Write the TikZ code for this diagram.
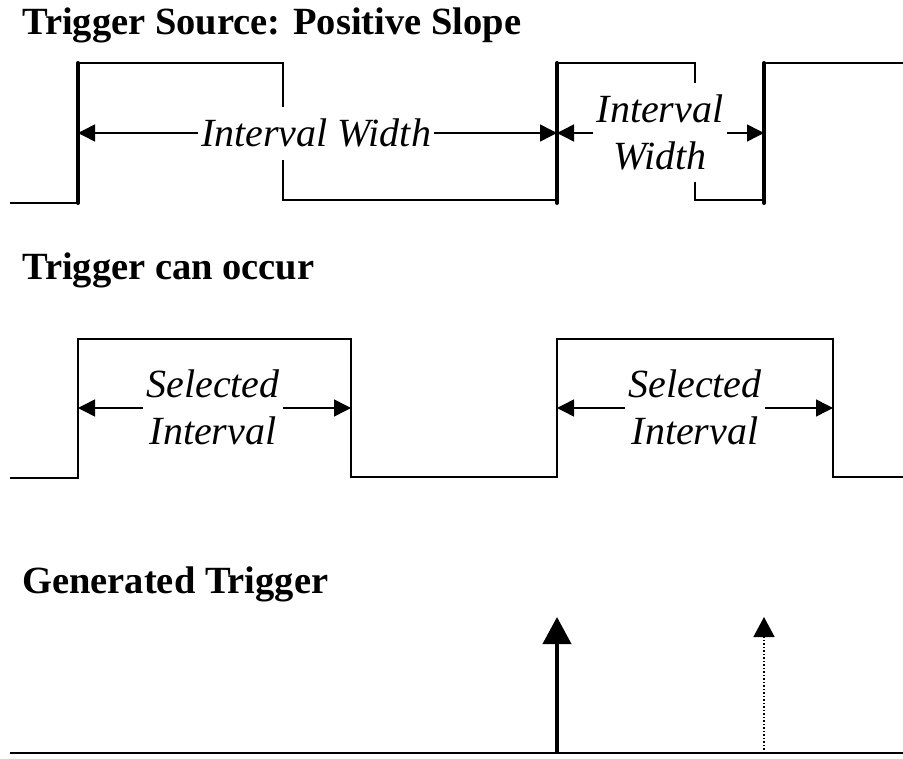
\documentclass[tikz,border=0pt]{standalone}
\usepackage{fontspec}
\setmainfont{Liberation Serif}
\usetikzlibrary{arrows.meta}
\tikzset{
  sig/.style={line width=1.5pt, line join=miter},
  edge/.style={line width=4pt, line cap=round},
  title/.style={anchor=base west, inner sep=0pt, font=\bfseries\fontsize{38.5}{46}\selectfont},
  lbl/.style={inner sep=3pt, align=center, font=\itshape\fontsize{40}{47}\selectfont},
  dim/.style={line width=1.5pt, -{Triangle[length=17pt,width=17pt]}},
  trig/.style={line width=4pt, -{Triangle[length=27pt,width=28pt]}},
  ghost/.style={line width=1.5pt, dotted, -{Triangle[length=20pt,width=21pt]}}
}
\begin{document}
\begin{tikzpicture}[x=1pt,y=-1pt]
\useasboundingbox (0,0) rectangle (903,759);
% titles
\node[title] (t1) at (22,35) {Trigger Source: Positive Slope};
\node[title] (t2) at (22,280) {Trigger can occur};
\node[title] (t3) at (22,593) {Generated Trigger};
% top signal coordinates
\coordinate (a1) at (78,133);
\coordinate (a2) at (557,133);
\coordinate (a3) at (764,133);
\draw[sig] (10,203) -- (78,203);
\draw[sig] (78,63) -- (283,63) -- (283,107);
\draw[sig] (283,160) -- (283,200) -- (557,200);
\draw[sig] (557,63) -- (695,63) -- (695,83);
\draw[sig] (695,182) -- (695,200) -- (764,200);
\draw[sig] (764,63) -- (903,63);
\draw[edge] (78,203) -- (78,63);
\draw[edge] (557,203) -- (557,63);
\draw[edge] (764,203) -- (764,63);
\node[lbl] (w1) at (316,133) {Interval Width};
\node[lbl] (w2) at (660,132) {Interval\\Width};
\draw[dim] (w1.west) -- (a1);
\draw[dim] (w1.east) -- (a2);
\draw[dim] (w2.west |- a2) -- (a2);
\draw[dim] (w2.east |- a3) -- (a3);
% middle signal
\draw[sig] (10,478) -- (78,478) -- (78,339) -- (351,339) -- (351,477) -- (557,477) -- (557,339) -- (833,339) -- (833,477) -- (903,477);
\coordinate (b1) at (78,408);
\coordinate (b2) at (351,408);
\coordinate (b3) at (557,408);
\coordinate (b4) at (833,408);
\node[lbl] (s1) at (213,407) {Selected\\Interval};
\node[lbl] (s2) at (695,407) {Selected\\Interval};
\draw[dim] (s1.west |- b1) -- (b1);
\draw[dim] (s1.east |- b2) -- (b2);
\draw[dim] (s2.west |- b3) -- (b3);
\draw[dim] (s2.east |- b4) -- (b4);
% bottom
\coordinate (g0) at (10,753);
\coordinate (g1) at (903,753);
\coordinate (p1) at (557,753);
\coordinate (q1) at (557,617);
\coordinate (p2) at (764,753);
\coordinate (q2) at (764,617);
\draw[sig] (g0) -- (g1);
\draw[trig] (p1) -- (q1);
\draw[ghost] (p2) -- (q2);
\end{tikzpicture}
\end{document}
